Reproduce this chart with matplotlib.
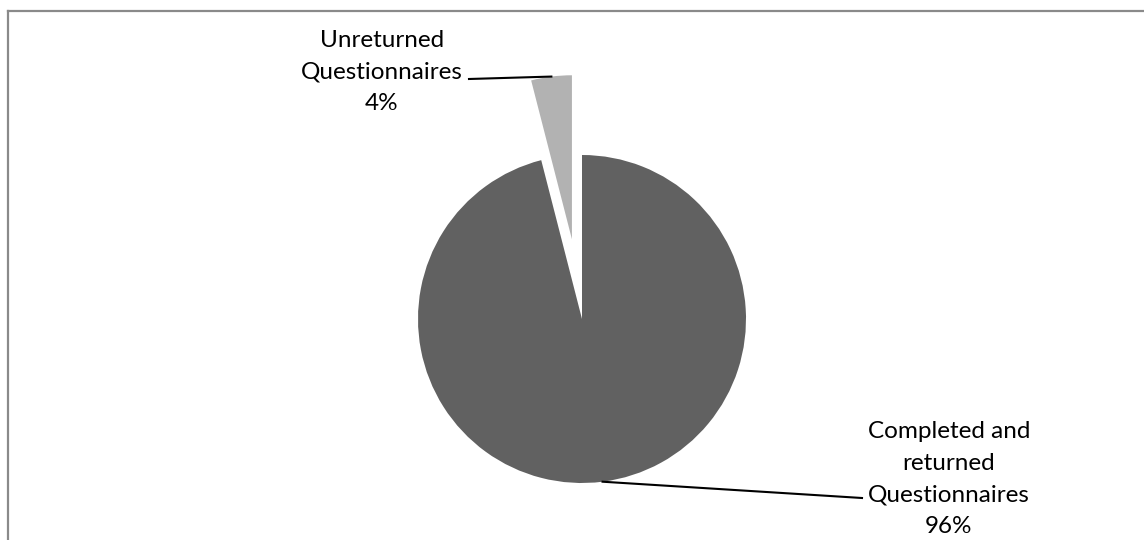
import numpy as np
import matplotlib
matplotlib.use("Agg")
import matplotlib.pyplot as plt
from matplotlib.lines import Line2D

categories = ["Completed and\nreturned\nQuestionnaires", "Unreturned\nQuestionnaires"]
values = [96, 4]
pct_labels = ["96%", "4%"]
colors = ["#616161", "#b2b2b2"]
explode_frac = [0.0, 0.49]

W, H = 1144, 540
fig = plt.figure(figsize=(W / 100, H / 100), dpi=100)
ax = fig.add_axes([0, 0, 1, 1])
ax.set_xlim(0, W)
ax.set_ylim(0, H)
ax.set_aspect("equal")
ax.axis("off")

cx, cy, R = 582, 540 - 319, 164
wedges, _ = ax.pie(values, colors=colors, startangle=90, counterclock=False,
                   explode=[e * R for e in explode_frac], center=(cx, cy), radius=R,
                   wedgeprops=dict(linewidth=0), frame=True)
ax.set_xlim(0, W)
ax.set_ylim(0, H)
ax.axis("off")

fam = ['Lato', 'DejaVu Sans']
plt.rcParams['font.family'] = fam
fs = 17.5

def anchor(w):
    ang = np.deg2rad((w.theta1 + w.theta2) / 2)
    c = w.center
    return c[0] + w.r * np.cos(ang), c[1] + w.r * np.sin(ang)

# Completed label
a0 = anchor(wedges[0])
ax.text(949, 540 - 479, categories[0] + "\n" + pct_labels[0], ha="center", va="center",
        multialignment="center", fontsize=fs, family=fam, linespacing=1.62)
ax.plot([a0[0], 862], [a0[1], 540 - 498], color="black", lw=1.5)

# Unreturned label
a1 = anchor(wedges[1])
ax.text(382, 540 - 72, categories[1] + "\n" + pct_labels[1], ha="center", va="center",
        multialignment="center", fontsize=fs, family=fam, linespacing=1.62)
ax.plot([469, a1[0]], [540 - 79, a1[1]], color="black", lw=1.5)

# chart area border (left and top visible)
fig.add_artist(Line2D([7.5 / W, 7.5 / W], [0, 1 - 10.5 / H], transform=fig.transFigure,
                      color="#8a8a8a", lw=1.6))
fig.add_artist(Line2D([7.5 / W, 1], [1 - 10.5 / H, 1 - 10.5 / H], transform=fig.transFigure,
                      color="#8a8a8a", lw=1.6))

fig.savefig("out.png", dpi=100)
